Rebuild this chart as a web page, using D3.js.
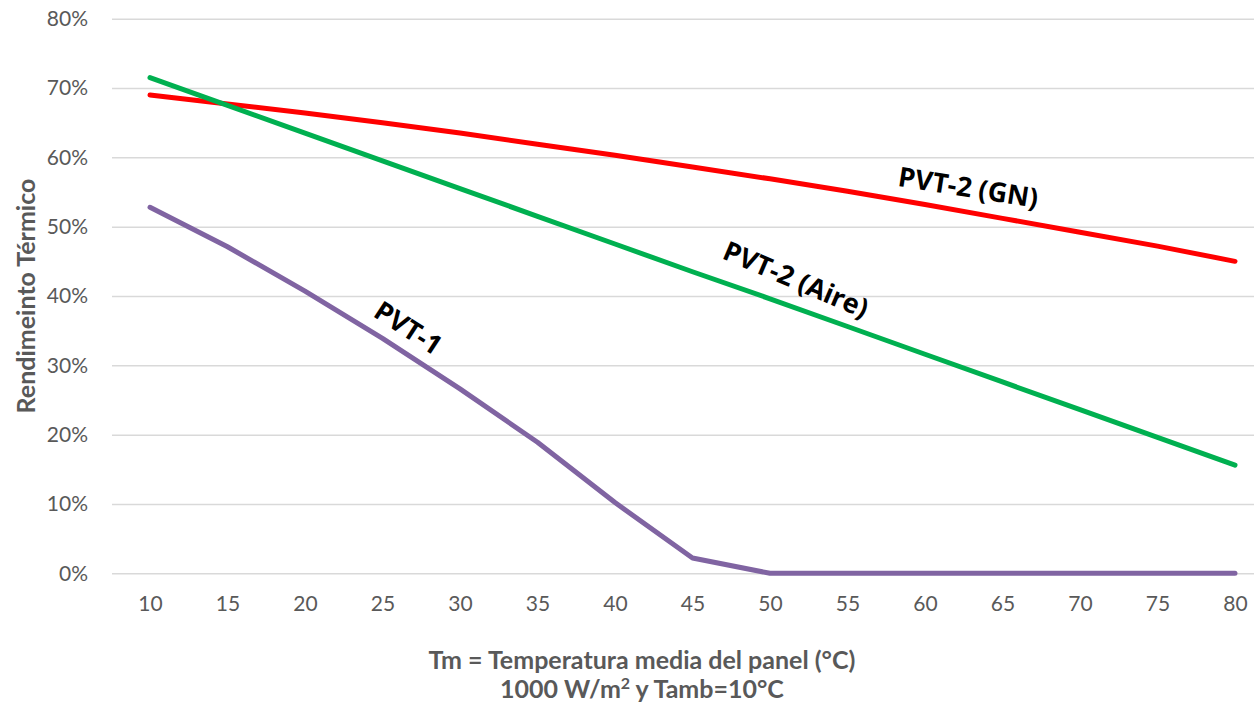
<!DOCTYPE html>
<html>
<head>
<meta charset="utf-8">
<script src="https://cdn.jsdelivr.net/npm/d3@7"></script>
<style>
  body { margin: 0; background: #fff; }
  svg { display: block; }
</style>
</head>
<body>
<div id="chart"></div>
<script>
// temperatura media (°C)
var temps = [10, 15, 20, 25, 30, 35, 40, 45, 50, 55, 60, 65, 70, 75, 80];
// rendimiento termico (%)
var pvt2GN   = [69.0, 67.7, 66.4, 65.0, 63.5, 61.9, 60.3, 58.6, 56.9, 55.1, 53.2, 51.2, 49.2, 47.2, 45.0];
var pvt2Aire = [71.5, 67.5, 63.5, 59.5, 55.5, 51.5, 47.5, 43.5, 39.6, 35.6, 31.6, 27.6, 23.6, 19.6, 15.6];
var pvt1     = [52.8, 47.1, 40.7, 33.9, 26.6, 18.9, 10.2, 2.2, 0, 0, 0, 0, 0, 0, 0];
var yTicks = [0, 10, 20, 30, 40, 50, 60, 70, 80];

var series = [
  {name: "PVT-2 (GN)", values: pvt2GN, color: "#FF0000"},
  {name: "PVT-2 (Aire)", values: pvt2Aire, color: "#00B050"},
  {name: "PVT-1", values: pvt1, color: "#8064A2"}
];

// etiquetas sobre las lineas (coordenadas de datos)
var labels = [
  {text: "PVT-2 (GN)", t: 62.8, v: 55.8, angle: 9},
  {text: "PVT-2 (Aire)", t: 51.7, v: 42.5, angle: 23},
  {text: "PVT-1", t: 26.7, v: 35.5, angle: 33}
];

var width = 1254, height = 704;
var svg = d3.select("#chart").append("svg")
    .attr("width", width)
    .attr("height", height);

var xScale = d3.scalePoint().domain(temps).range([150, 1235]);
var xLin = d3.scaleLinear().domain([10, 80]).range([150, 1235]);
var yScale = d3.scaleLinear().domain([0, 80]).range([573.3, 18.7]);

var font = "Lato, 'Open Sans', sans-serif";

// grid
svg.append("g")
  .attr("transform", "translate(112,0)")
  .call(d3.axisLeft(yScale).tickValues(yTicks).tickSize(-(width - 112)).tickFormat(""))
  .call(g => g.select(".domain").remove())
  .call(g => g.selectAll(".tick line").attr("stroke", "#D9D9D9").attr("stroke-width", 1.5));

// y labels
svg.append("g")
  .attr("transform", "translate(88,0)")
  .call(d3.axisLeft(yScale).tickValues(yTicks).tickSize(0).tickPadding(0).tickFormat(d => d + "%"))
  .call(g => g.select(".domain").remove())
  .call(g => g.selectAll("text")
      .attr("fill", "#595959")
      .style("font-family", font)
      .style("font-size", "21px"));

// x labels
svg.append("g")
  .attr("transform", "translate(0,596)")
  .call(d3.axisBottom(xScale).tickSize(0).tickPadding(0))
  .call(g => g.select(".domain").remove())
  .call(g => g.selectAll("text")
      .attr("fill", "#595959")
      .style("font-family", font)
      .style("font-size", "21px"));

var line = d3.line()
  .x((d, i) => xScale(temps[i]))
  .y(d => yScale(d));

svg.selectAll(".serie")
  .data(series)
  .enter()
  .append("path")
  .attr("class", "serie")
  .attr("fill", "none")
  .attr("stroke", d => d.color)
  .attr("stroke-width", 5)
  .attr("stroke-linecap", "round")
  .attr("stroke-linejoin", "round")
  .attr("d", d => line(d.values));

svg.selectAll(".lbl")
  .data(labels)
  .enter()
  .append("text")
  .attr("class", "lbl")
  .attr("transform", d => "translate(" + xLin(d.t) + "," + yScale(d.v) + ") rotate(" + d.angle + ")")
  .attr("text-anchor", "middle")
  .attr("dominant-baseline", "central")
  .style("font-family", "'Open Sans', sans-serif")
  .style("font-weight", "bold")
  .style("font-size", "27px")
  .attr("fill", "#000")
  .text(d => d.text);

// axis titles
svg.append("text")
  .attr("transform", "translate(25,296) rotate(-90)")
  .attr("text-anchor", "middle")
  .attr("dominant-baseline", "central")
  .attr("fill", "#595959")
  .style("font-family", font)
  .style("font-weight", "bold")
  .style("font-size", "25px")
  .text("Rendimeinto Térmico");

var xt = svg.append("text")
  .attr("text-anchor", "middle")
  .attr("fill", "#595959")
  .style("font-family", font)
  .style("font-weight", "bold")
  .style("font-size", "25px");
xt.append("tspan").attr("x", 642).attr("y", 669).text("Tm = Temperatura media del panel (°C)");
var l2 = xt.append("tspan").attr("x", 642).attr("y", 698);
l2.append("tspan").text("1000 W/m");
l2.append("tspan").style("font-size", "16px").attr("dy", -9).text("2");
l2.append("tspan").attr("dy", 9).text(" y Tamb=10°C");
</script>
</body>
</html>
